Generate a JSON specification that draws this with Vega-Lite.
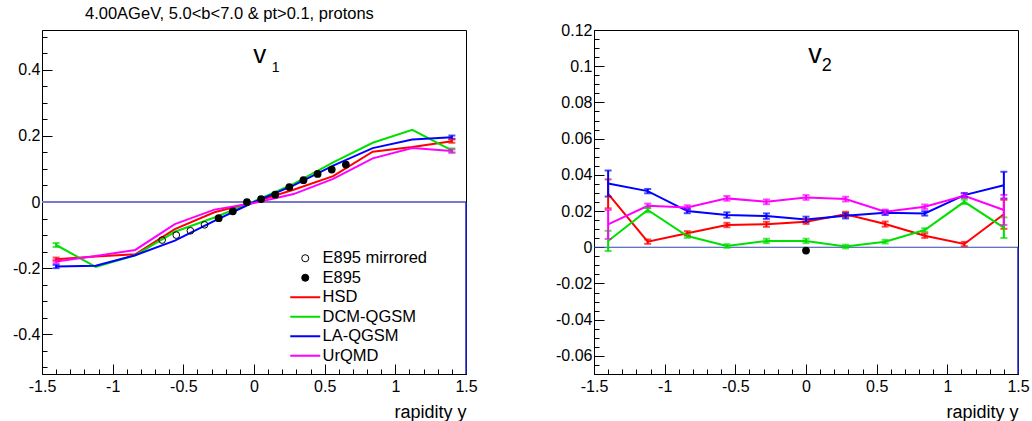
{
  "$schema": "https://vega.github.io/schema/vega-lite/v6.json",
  "padding": {"left": 11, "top": 5, "right": 5, "bottom": 0},
  "bounds": "flush",
  "spacing": 128,
  "config": {
    "font": "Liberation Sans",
    "view": {"stroke": "black", "strokeWidth": 1},
    "axis": {"grid": false, "domainColor": "black", "tickColor": "black", "labelColor": "black", "titleColor": "black", "labelFontSize": 16, "titleFontSize": 18, "titleFontWeight": "normal", "labelFlush": false, "labelOverlap": false, "tickWidth": 1, "tickCount": 200}
  },
  "datasets": {
    "v1models": [
      {"model": "HSD", "rapidity": -1.4, "v": -0.173, "err": 0.005},
      {"model": "HSD", "rapidity": -1.12, "v": -0.165, "err": 0},
      {"model": "HSD", "rapidity": -0.84, "v": -0.158, "err": 0},
      {"model": "HSD", "rapidity": -0.56, "v": -0.082, "err": 0},
      {"model": "HSD", "rapidity": -0.28, "v": -0.031, "err": 0},
      {"model": "HSD", "rapidity": 0, "v": 0.0, "err": 0},
      {"model": "HSD", "rapidity": 0.28, "v": 0.037, "err": 0},
      {"model": "HSD", "rapidity": 0.56, "v": 0.078, "err": 0},
      {"model": "HSD", "rapidity": 0.84, "v": 0.152, "err": 0},
      {"model": "HSD", "rapidity": 1.12, "v": 0.166, "err": 0},
      {"model": "HSD", "rapidity": 1.4, "v": 0.184, "err": 0.005},
      {"model": "DCM-QGSM", "rapidity": -1.4, "v": -0.13, "err": 0.006},
      {"model": "DCM-QGSM", "rapidity": -1.12, "v": -0.196, "err": 0},
      {"model": "DCM-QGSM", "rapidity": -0.84, "v": -0.161, "err": 0},
      {"model": "DCM-QGSM", "rapidity": -0.56, "v": -0.09, "err": 0},
      {"model": "DCM-QGSM", "rapidity": -0.28, "v": -0.047, "err": 0},
      {"model": "DCM-QGSM", "rapidity": 0, "v": 0.002, "err": 0},
      {"model": "DCM-QGSM", "rapidity": 0.28, "v": 0.055, "err": 0},
      {"model": "DCM-QGSM", "rapidity": 0.56, "v": 0.12, "err": 0},
      {"model": "DCM-QGSM", "rapidity": 0.84, "v": 0.179, "err": 0},
      {"model": "DCM-QGSM", "rapidity": 1.12, "v": 0.218, "err": 0},
      {"model": "DCM-QGSM", "rapidity": 1.4, "v": 0.156, "err": 0.006},
      {"model": "LA-QGSM", "rapidity": -1.4, "v": -0.195, "err": 0.005},
      {"model": "LA-QGSM", "rapidity": -1.12, "v": -0.193, "err": 0},
      {"model": "LA-QGSM", "rapidity": -0.84, "v": -0.161, "err": 0},
      {"model": "LA-QGSM", "rapidity": -0.56, "v": -0.117, "err": 0},
      {"model": "LA-QGSM", "rapidity": -0.28, "v": -0.057, "err": 0},
      {"model": "LA-QGSM", "rapidity": 0, "v": 0.0, "err": 0},
      {"model": "LA-QGSM", "rapidity": 0.28, "v": 0.05, "err": 0},
      {"model": "LA-QGSM", "rapidity": 0.56, "v": 0.11, "err": 0},
      {"model": "LA-QGSM", "rapidity": 0.84, "v": 0.163, "err": 0},
      {"model": "LA-QGSM", "rapidity": 1.12, "v": 0.189, "err": 0},
      {"model": "LA-QGSM", "rapidity": 1.4, "v": 0.196, "err": 0.005},
      {"model": "UrQMD", "rapidity": -1.4, "v": -0.18, "err": 0.005},
      {"model": "UrQMD", "rapidity": -1.12, "v": -0.163, "err": 0},
      {"model": "UrQMD", "rapidity": -0.84, "v": -0.145, "err": 0},
      {"model": "UrQMD", "rapidity": -0.56, "v": -0.067, "err": 0},
      {"model": "UrQMD", "rapidity": -0.28, "v": -0.023, "err": 0},
      {"model": "UrQMD", "rapidity": 0, "v": -0.003, "err": 0},
      {"model": "UrQMD", "rapidity": 0.28, "v": 0.024, "err": 0},
      {"model": "UrQMD", "rapidity": 0.56, "v": 0.07, "err": 0},
      {"model": "UrQMD", "rapidity": 0.84, "v": 0.132, "err": 0},
      {"model": "UrQMD", "rapidity": 1.12, "v": 0.163, "err": 0},
      {"model": "UrQMD", "rapidity": 1.4, "v": 0.154, "err": 0.005}
    ],
    "v1data": [
      {"model": "E895 mirrored", "rapidity": -0.65, "v": -0.115},
      {"model": "E895 mirrored", "rapidity": -0.55, "v": -0.1},
      {"model": "E895 mirrored", "rapidity": -0.45, "v": -0.087},
      {"model": "E895 mirrored", "rapidity": -0.35, "v": -0.069},
      {"model": "E895", "rapidity": -0.25, "v": -0.049},
      {"model": "E895", "rapidity": -0.15, "v": -0.028},
      {"model": "E895", "rapidity": -0.05, "v": 0.0},
      {"model": "E895", "rapidity": 0.05, "v": 0.009},
      {"model": "E895", "rapidity": 0.15, "v": 0.022},
      {"model": "E895", "rapidity": 0.25, "v": 0.045},
      {"model": "E895", "rapidity": 0.35, "v": 0.066},
      {"model": "E895", "rapidity": 0.45, "v": 0.085},
      {"model": "E895", "rapidity": 0.55, "v": 0.098},
      {"model": "E895", "rapidity": 0.65, "v": 0.113}
    ],
    "v2models": [
      {"model": "HSD", "rapidity": -1.4, "v": 0.0295, "err": 0.008},
      {"model": "HSD", "rapidity": -1.12, "v": 0.0031, "err": 0.0012},
      {"model": "HSD", "rapidity": -0.84, "v": 0.0077, "err": 0.0012},
      {"model": "HSD", "rapidity": -0.56, "v": 0.0123, "err": 0.0012},
      {"model": "HSD", "rapidity": -0.28, "v": 0.0127, "err": 0.0014},
      {"model": "HSD", "rapidity": 0, "v": 0.0141, "err": 0.0012},
      {"model": "HSD", "rapidity": 0.28, "v": 0.0182, "err": 0.0014},
      {"model": "HSD", "rapidity": 0.56, "v": 0.0128, "err": 0.0014},
      {"model": "HSD", "rapidity": 0.84, "v": 0.0064, "err": 0.0012},
      {"model": "HSD", "rapidity": 1.12, "v": 0.0018, "err": 0.0012},
      {"model": "HSD", "rapidity": 1.4, "v": 0.0182, "err": 0.008},
      {"model": "DCM-QGSM", "rapidity": -1.4, "v": 0.0035, "err": 0.0056},
      {"model": "DCM-QGSM", "rapidity": -1.12, "v": 0.0206, "err": 0.0013},
      {"model": "DCM-QGSM", "rapidity": -0.84, "v": 0.0062, "err": 0.001},
      {"model": "DCM-QGSM", "rapidity": -0.56, "v": 0.0007, "err": 0.001},
      {"model": "DCM-QGSM", "rapidity": -0.28, "v": 0.0035, "err": 0.0012},
      {"model": "DCM-QGSM", "rapidity": 0, "v": 0.0035, "err": 0.0012},
      {"model": "DCM-QGSM", "rapidity": 0.28, "v": 0.0004, "err": 0.001},
      {"model": "DCM-QGSM", "rapidity": 0.56, "v": 0.0031, "err": 0.001},
      {"model": "DCM-QGSM", "rapidity": 0.84, "v": 0.0095, "err": 0.001},
      {"model": "DCM-QGSM", "rapidity": 1.12, "v": 0.0251, "err": 0.0012},
      {"model": "DCM-QGSM", "rapidity": 1.4, "v": 0.0108, "err": 0.0057},
      {"model": "LA-QGSM", "rapidity": -1.4, "v": 0.0352, "err": 0.0072},
      {"model": "LA-QGSM", "rapidity": -1.12, "v": 0.031, "err": 0.0012},
      {"model": "LA-QGSM", "rapidity": -0.84, "v": 0.02, "err": 0.0012},
      {"model": "LA-QGSM", "rapidity": -0.56, "v": 0.0178, "err": 0.0015},
      {"model": "LA-QGSM", "rapidity": -0.28, "v": 0.0172, "err": 0.0015},
      {"model": "LA-QGSM", "rapidity": 0, "v": 0.0154, "err": 0.0015},
      {"model": "LA-QGSM", "rapidity": 0.28, "v": 0.0174, "err": 0.0015},
      {"model": "LA-QGSM", "rapidity": 0.56, "v": 0.019, "err": 0.0012},
      {"model": "LA-QGSM", "rapidity": 0.84, "v": 0.0187, "err": 0.0012},
      {"model": "LA-QGSM", "rapidity": 1.12, "v": 0.0288, "err": 0.0012},
      {"model": "LA-QGSM", "rapidity": 1.4, "v": 0.0343, "err": 0.0074},
      {"model": "UrQMD", "rapidity": -1.4, "v": 0.0126, "err": 0.008},
      {"model": "UrQMD", "rapidity": -1.12, "v": 0.0229, "err": 0.0012},
      {"model": "UrQMD", "rapidity": -0.84, "v": 0.022, "err": 0.0012},
      {"model": "UrQMD", "rapidity": -0.56, "v": 0.027, "err": 0.0013},
      {"model": "UrQMD", "rapidity": -0.28, "v": 0.0251, "err": 0.0013},
      {"model": "UrQMD", "rapidity": 0, "v": 0.0275, "err": 0.0013},
      {"model": "UrQMD", "rapidity": 0.28, "v": 0.0266, "err": 0.0013},
      {"model": "UrQMD", "rapidity": 0.56, "v": 0.0196, "err": 0.0012},
      {"model": "UrQMD", "rapidity": 0.84, "v": 0.0224, "err": 0.0012},
      {"model": "UrQMD", "rapidity": 1.12, "v": 0.0284, "err": 0.0012},
      {"model": "UrQMD", "rapidity": 1.4, "v": 0.0206, "err": 0.0083}
    ],
    "v2data": [
      {"model": "E895", "rapidity": 0, "v": -0.0018}
    ]
  },
  "hconcat": [
    {
      "width": 424,
      "height": 344,
      "title": {"text": "4.00AGeV, 5.0<b<7.0 & pt>0.1, protons", "anchor": "start", "frame": "group", "dx": 43, "offset": -7, "baseline": "alphabetic", "fontSize": 16.5, "fontWeight": "normal", "color": "black"},
      "layer": [
        {
          "data": {"values": [{}]},
          "mark": {"type": "rule", "color": "#7878cc", "strokeWidth": 2},
          "encoding": {"y": {"datum": 0, "type": "quantitative"}}
        },
        {
          "data": {"values": [{}]},
          "mark": {"type": "rule", "color": "#2222cc", "strokeWidth": 1.5},
          "encoding": {"x": {"datum": 1.5, "type": "quantitative"}, "y": {"datum": 0, "type": "quantitative"}, "y2": {"datum": -0.52}}
        },
        {
          "data": {"name": "v1models"},
          "mark": {"type": "line", "strokeWidth": 2},
          "encoding": {
            "x": {"field": "rapidity", "type": "quantitative", "scale": {"domain": [-1.5, 1.5], "nice": false, "zero": false},
              "axis": {"title": "rapidity y", "titleAnchor": "end", "titleAlign": "right", "titlePadding": 4, "labelOverlap": false, "tickCount": 200,
                "values": [-1.5,-1.4,-1.3,-1.2,-1.1,-1,-0.9,-0.8,-0.7,-0.6,-0.5,-0.4,-0.3,-0.2,-0.1,0,0.1,0.2,0.3,0.4,0.5,0.6,0.7,0.8,0.9,1,1.1,1.2,1.3,1.4,1.5],
                "labelExpr": "indexof([-1.5, -1, -0.5, 0, 0.5, 1, 1.5], datum.value) >= 0 ? '' + datum.value : ''",
                "tickSize": {"condition": {"test": "indexof([-1.5, -1, -0.5, 0, 0.5, 1, 1.5], datum.value) >= 0", "value": -10}, "value": -5},
                "labelPadding": 14}},
            "y": {"field": "v", "type": "quantitative", "scale": {"domain": [-0.52, 0.52], "nice": false, "zero": false},
              "axis": {"title": null, "labelOverlap": false, "tickCount": 200,
                "values": [-0.5,-0.45,-0.4,-0.35,-0.3,-0.25,-0.2,-0.15,-0.1,-0.05,0,0.05,0.1,0.15,0.2,0.25,0.3,0.35,0.4,0.45,0.5],
                "labelExpr": "indexof([-0.4, -0.2, 0, 0.2, 0.4], datum.value) >= 0 ? '' + datum.value : ''",
                "tickSize": {"condition": {"test": "indexof([-0.4, -0.2, 0, 0.2, 0.4], datum.value) >= 0", "value": -10}, "value": -5},
                "labelPadding": 12}},
            "color": {"field": "model", "type": "nominal",
              "scale": {"domain": ["E895 mirrored", "E895", "HSD", "DCM-QGSM", "LA-QGSM", "UrQMD"], "range": ["black", "black", "#ff0000", "#00e000", "#0000ff", "#ff00ff"]},
              "legend": {"orient": "none", "legendX": 255, "legendY": 220, "title": null, "padding": 0,
                "labelFontSize": 16.5, "labelColor": "black", "labelOffset": 9, "rowPadding": 2.5,
                "symbolType": "stroke", "symbolSize": 900, "symbolStrokeWidth": 2,
                "encode": {"symbols": {"update": {
                  "shape": {"signal": "indexof(['E895', 'E895 mirrored'], datum.value) >= 0 ? 'circle' : 'stroke'"},
                  "size": {"signal": "indexof(['E895', 'E895 mirrored'], datum.value) >= 0 ? 50 : 900"},
                  "fillOpacity": {"signal": "datum.value === 'E895 mirrored' ? 0 : 1"},
                  "strokeWidth": {"signal": "indexof(['E895', 'E895 mirrored'], datum.value) >= 0 ? 1 : 2"}
                }}}}}
          }
        },
        {
          "data": {"name": "v1models"},
          "transform": [{"filter": "datum.err > 0"}],
          "mark": {"type": "errorbar", "ticks": {"size": 7, "thickness": 2}, "thickness": 2},
          "encoding": {
            "x": {"field": "rapidity", "type": "quantitative"},
            "y": {"field": "v", "type": "quantitative"},
            "yError": {"field": "err"},
            "color": {"field": "model", "type": "nominal"}
          }
        },
        {
          "data": {"name": "v1data"},
          "transform": [{"filter": "datum.model === 'E895 mirrored'"}],
          "mark": {"type": "point", "shape": "circle", "filled": false, "size": 45, "strokeWidth": 1, "opacity": 1},
          "encoding": {
            "x": {"field": "rapidity", "type": "quantitative"},
            "y": {"field": "v", "type": "quantitative"},
            "color": {"field": "model", "type": "nominal"}
          }
        },
        {
          "data": {"name": "v1data"},
          "transform": [{"filter": "datum.model === 'E895'"}],
          "mark": {"type": "point", "shape": "circle", "filled": true, "size": 60, "opacity": 1},
          "encoding": {
            "x": {"field": "rapidity", "type": "quantitative"},
            "y": {"field": "v", "type": "quantitative"},
            "color": {"field": "model", "type": "nominal"}
          }
        },
        {
          "data": {"values": [{}]},
          "mark": {"type": "text", "text": "v", "fontSize": 26, "align": "left", "baseline": "alphabetic", "color": "black"},
          "encoding": {"x": {"datum": -0.005, "type": "quantitative"}, "y": {"datum": 0.4195, "type": "quantitative"}}
        },
        {
          "data": {"values": [{}]},
          "mark": {"type": "text", "text": "1", "fontSize": 14, "align": "left", "baseline": "alphabetic", "color": "black"},
          "encoding": {"x": {"datum": 0.125, "type": "quantitative"}, "y": {"datum": 0.394, "type": "quantitative"}}
        }
      ]
    },
    {
      "width": 424,
      "height": 344,
      "layer": [
        {
          "data": {"values": [{}]},
          "mark": {"type": "rule", "color": "#3344aa", "strokeWidth": 1},
          "encoding": {"y": {"datum": 0, "type": "quantitative"}}
        },
        {
          "data": {"values": [{}]},
          "mark": {"type": "rule", "color": "#2222cc", "strokeWidth": 1.5},
          "encoding": {"x": {"datum": 1.5, "type": "quantitative"}, "y": {"datum": 0, "type": "quantitative"}, "y2": {"datum": -0.07}}
        },
        {
          "data": {"name": "v2models"},
          "mark": {"type": "line", "strokeWidth": 2},
          "encoding": {
            "x": {"field": "rapidity", "type": "quantitative", "scale": {"domain": [-1.5, 1.5], "nice": false, "zero": false},
              "axis": {"title": "rapidity y", "titleAnchor": "end", "titleAlign": "right", "titlePadding": 4, "labelOverlap": false, "tickCount": 200,
                "values": [-1.5,-1.4,-1.3,-1.2,-1.1,-1,-0.9,-0.8,-0.7,-0.6,-0.5,-0.4,-0.3,-0.2,-0.1,0,0.1,0.2,0.3,0.4,0.5,0.6,0.7,0.8,0.9,1,1.1,1.2,1.3,1.4,1.5],
                "labelExpr": "indexof([-1.5, -1, -0.5, 0, 0.5, 1, 1.5], datum.value) >= 0 ? '' + datum.value : ''",
                "tickSize": {"condition": {"test": "indexof([-1.5, -1, -0.5, 0, 0.5, 1, 1.5], datum.value) >= 0", "value": -10}, "value": -5},
                "labelPadding": 14}},
            "y": {"field": "v", "type": "quantitative", "scale": {"domain": [-0.07, 0.12], "nice": false, "zero": false},
              "axis": {"title": null, "labelOverlap": false, "tickCount": 200,
                "values": [-0.07,-0.065,-0.06,-0.055,-0.05,-0.045,-0.04,-0.035,-0.03,-0.025,-0.02,-0.015,-0.01,-0.005,0,0.005,0.01,0.015,0.02,0.025,0.03,0.035,0.04,0.045,0.05,0.055,0.06,0.065,0.07,0.075,0.08,0.085,0.09,0.095,0.1,0.105,0.11,0.115,0.12],
                "labelExpr": "indexof([-0.06, -0.04, -0.02, 0, 0.02, 0.04, 0.06, 0.08, 0.1, 0.12], datum.value) >= 0 ? '' + datum.value : ''",
                "tickSize": {"condition": {"test": "indexof([-0.06, -0.04, -0.02, 0, 0.02, 0.04, 0.06, 0.08, 0.1, 0.12], datum.value) >= 0", "value": -10}, "value": -5},
                "labelPadding": 12}},
            "color": {"field": "model", "type": "nominal"}
          }
        },
        {
          "data": {"name": "v2models"},
          "mark": {"type": "errorbar", "ticks": {"size": 7, "thickness": 2}, "thickness": 2},
          "encoding": {
            "x": {"field": "rapidity", "type": "quantitative"},
            "y": {"field": "v", "type": "quantitative"},
            "yError": {"field": "err"},
            "color": {"field": "model", "type": "nominal"}
          }
        },
        {
          "data": {"name": "v2data"},
          "mark": {"type": "point", "shape": "circle", "filled": true, "size": 60, "opacity": 1},
          "encoding": {
            "x": {"field": "rapidity", "type": "quantitative"},
            "y": {"field": "v", "type": "quantitative"},
            "color": {"field": "model", "type": "nominal"}
          }
        },
        {
          "data": {"values": [{}]},
          "mark": {"type": "text", "text": "v", "fontSize": 27, "align": "left", "baseline": "alphabetic", "color": "black"},
          "encoding": {"x": {"datum": 0.016, "type": "quantitative"}, "y": {"datum": 0.1018, "type": "quantitative"}}
        },
        {
          "data": {"values": [{}]},
          "mark": {"type": "text", "text": "2", "fontSize": 18, "align": "left", "baseline": "alphabetic", "color": "black"},
          "encoding": {"x": {"datum": 0.111, "type": "quantitative"}, "y": {"datum": 0.0975, "type": "quantitative"}}
        }
      ]
    }
  ]
}
